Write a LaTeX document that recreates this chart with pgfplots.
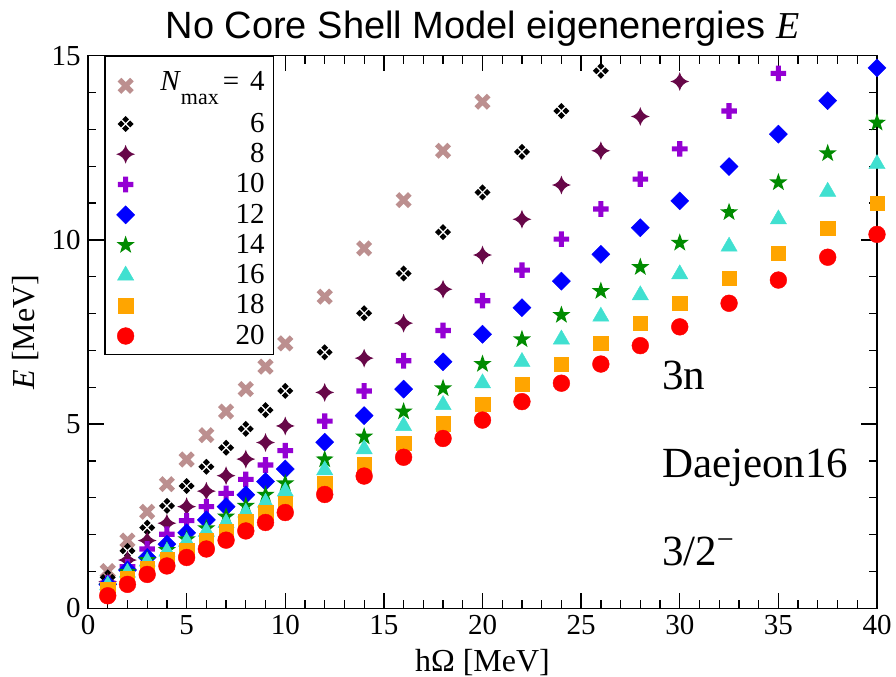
\documentclass[border=0pt]{standalone}
\usepackage{fontspec}
\setmainfont{Liberation Serif}
\newfontfamily\titlefont{Liberation Sans}
\usepackage{pgfplots}
\pgfplotsset{compat=1.18}

\definecolor{gbrown}{RGB}{188,143,143}
\definecolor{gmaroon}{RGB}{103,7,72}
\definecolor{gviolet}{RGB}{148,0,211}
\definecolor{ggreen}{RGB}{0,139,0}
\definecolor{gturq}{RGB}{64,224,208}
\definecolor{gorange}{RGB}{255,165,0}

% marks
\newcommand\mkp[2]{\pgfqpoint{#1\pgfplotmarksize}{#2\pgfplotmarksize}}
\pgfdeclareplotmark{fourdiam}{%
  \pgfpathmoveto{\mkp{1}{0}}\pgfpathlineto{\mkp{0.57}{0.43}}\pgfpathlineto{\mkp{0.14}{0}}\pgfpathlineto{\mkp{0.57}{-0.43}}\pgfpathclose
  \pgfpathmoveto{\mkp{-1}{0}}\pgfpathlineto{\mkp{-0.57}{0.43}}\pgfpathlineto{\mkp{-0.14}{0}}\pgfpathlineto{\mkp{-0.57}{-0.43}}\pgfpathclose
  \pgfpathmoveto{\mkp{0}{1}}\pgfpathlineto{\mkp{0.43}{0.57}}\pgfpathlineto{\mkp{0}{0.14}}\pgfpathlineto{\mkp{-0.43}{0.57}}\pgfpathclose
  \pgfpathmoveto{\mkp{0}{-1}}\pgfpathlineto{\mkp{0.43}{-0.57}}\pgfpathlineto{\mkp{0}{-0.14}}\pgfpathlineto{\mkp{-0.43}{-0.57}}\pgfpathclose
  \pgfusepathqfill}
\pgfdeclareplotmark{fourstar}{%
  \pgfpathmoveto{\mkp{0}{1}}
  \pgfpathquadraticcurveto{\mkp{0.2}{0.2}}{\mkp{1}{0}}
  \pgfpathquadraticcurveto{\mkp{0.2}{-0.2}}{\mkp{0}{-1}}
  \pgfpathquadraticcurveto{\mkp{-0.2}{-0.2}}{\mkp{-1}{0}}
  \pgfpathquadraticcurveto{\mkp{-0.2}{0.2}}{\mkp{0}{1}}
  \pgfpathclose\pgfusepathqfill}
\pgfdeclareplotmark{fplus}{%
  \pgfpathmoveto{\mkp{0.33}{1}}\pgfpathlineto{\mkp{0.33}{0.33}}\pgfpathlineto{\mkp{1}{0.33}}
  \pgfpathlineto{\mkp{1}{-0.33}}\pgfpathlineto{\mkp{0.33}{-0.33}}\pgfpathlineto{\mkp{0.33}{-1}}
  \pgfpathlineto{\mkp{-0.33}{-1}}\pgfpathlineto{\mkp{-0.33}{-0.33}}\pgfpathlineto{\mkp{-1}{-0.33}}
  \pgfpathlineto{\mkp{-1}{0.33}}\pgfpathlineto{\mkp{-0.33}{0.33}}\pgfpathlineto{\mkp{-0.33}{1}}
  \pgfpathclose\pgfusepathqfill}
\pgfdeclareplotmark{fstar}{%
  \pgfpathmoveto{\mkp{0}{1}}\pgfpathlineto{\mkp{0.235}{0.324}}\pgfpathlineto{\mkp{0.951}{0.309}}
  \pgfpathlineto{\mkp{0.380}{-0.124}}\pgfpathlineto{\mkp{0.588}{-0.809}}\pgfpathlineto{\mkp{0}{-0.4}}
  \pgfpathlineto{\mkp{-0.588}{-0.809}}\pgfpathlineto{\mkp{-0.380}{-0.124}}\pgfpathlineto{\mkp{-0.951}{0.309}}
  \pgfpathlineto{\mkp{-0.235}{0.324}}\pgfpathclose\pgfusepathqfill}

\newcommand\rowstrut{\rule[-1.5pt]{0pt}{11.25pt}}

\begin{document}
\begin{tikzpicture}
\begin{axis}[
  scale only axis,
  width=394.5pt, height=276.3pt,
  xmin=0, xmax=40, ymin=0, ymax=15,
  xtick={0,5,...,40}, ytick={0,5,10,15},
  minor tick num=4,
  tick pos=both, tick align=inside,
  major tick length=7.8pt, minor tick length=4.2pt,
  axis line style={line width=0.65pt},
  every tick/.style={black, line width=0.65pt},
  clip=false,
  /pgf/number format/assume math mode=true,
  ticklabel style={font=\rmfamily\fontsize{14.5}{17}\selectfont},
  yticklabel style={inner xsep=3.5pt},
  title={{\titlefont No Core Shell Model eigenenergies {\rmfamily\itshape E}}},
  title style={at={([yshift=2.85pt]axis description cs:0.5,1)}, anchor=base, inner sep=0pt, font=\fontsize{19}{22}\selectfont},
  xlabel={hΩ [MeV]},
  ylabel={\textit{E} [MeV]},
  xlabel style={at={([yshift=-31.35pt]axis description cs:0.5,0)}, anchor=base, inner sep=0pt, font=\rmfamily\fontsize{16}{19}\selectfont},
  ylabel style={at={([xshift=-26.5pt]axis description cs:0,0.5)}, anchor=base, inner sep=0pt, font=\rmfamily\fontsize{16}{19}\selectfont},
  legend cell align=right,
  legend image code/.code={\path (-7pt,0pt) (15.5pt,0pt); \draw[#1] plot coordinates {(0pt,0pt)};},
  legend style={at={(axis description cs:0.0207,1)}, anchor=north west, draw=black, line width=0.65pt, fill=white,
    font=\rmfamily\fontsize{14.5}{16}\selectfont, inner xsep=3pt, inner ysep=2pt, row sep=0.9pt,
    nodes={inner sep=1.5pt, text depth={}, text height={}}},
]
\addplot[only marks, color=gbrown, mark=x, mark size=4.4pt, mark options={line width=2.6pt},
  legend image post style={yshift=-0.85pt}] coordinates {
(1,1.01) (2,1.84) (3,2.62) (4,3.37) (5,4.04) (6,4.70) (7,5.34) (8,5.95) (9,6.56) (10,7.19)
(12,8.46) (14,9.77) (16,11.08) (18,12.42) (20,13.75)};
\addlegendentry{\rule[-7pt]{0pt}{20.65pt}\textit{N}\raisebox{-7pt}{\fontsize{11}{11}\selectfont max}\hspace{2pt}=\hspace{5.5pt}4}
\addplot[only marks, color=black, mark=fourdiam, mark size=4pt] coordinates {
(1,0.84) (2,1.56) (3,2.19) (4,2.78) (5,3.32) (6,3.84) (7,4.36) (8,4.87) (9,5.38) (10,5.90)
(12,6.95) (14,8.01) (16,9.09) (18,10.21) (20,11.29) (22,12.39) (24,13.50) (26,14.59)};
\addlegendentry{\rowstrut 6}
\addplot[only marks, color=gmaroon, mark=fourstar, mark size=4.7pt] coordinates {
(1,0.72) (2,1.31) (3,1.84) (4,2.31) (5,2.76) (6,3.18) (7,3.60) (8,4.05) (9,4.50) (10,4.95)
(12,5.86) (14,6.79) (16,7.74) (18,8.66) (20,9.59) (22,10.56) (24,11.49) (26,12.42) (28,13.35) (30,14.30)};
\addlegendentry{\rowstrut 8}
\addplot[only marks, color=gviolet, mark=fplus, mark size=3.9pt] coordinates {
(1,0.68) (2,1.13) (3,1.61) (4,2.01) (5,2.38) (6,2.76) (7,3.12) (8,3.50) (9,3.89) (10,4.28)
(12,5.08) (14,5.90) (16,6.72) (18,7.54) (20,8.35) (22,9.18) (24,10.02) (26,10.84) (28,11.65) (30,12.47)
(32.5,13.50) (35,14.52)};
\addlegendentry{\rowstrut 10}
\addplot[only marks, color=blue, mark=square*, mark size=3.2pt, mark options={rotate=45, line width=0.2pt}] coordinates {
(1,0.65) (2,1.04) (3,1.38) (4,1.74) (5,2.05) (6,2.40) (7,2.76) (8,3.08) (9,3.44) (10,3.78)
(12,4.51) (14,5.23) (16,5.95) (18,6.69) (20,7.44) (22,8.16) (24,8.88) (26,9.61) (28,10.33) (30,11.06)
(32.5,11.99) (35,12.87) (37.5,13.78) (40,14.67)};
\addlegendentry{\rowstrut 12}
\addplot[only marks, color=ggreen, mark=fstar, mark size=4.75pt] coordinates {
(1,0.59) (2,0.99) (3,1.31) (4,1.58) (5,1.87) (6,2.17) (7,2.49) (8,2.78) (9,3.08) (10,3.39)
(12,4.04) (14,4.66) (16,5.34) (18,5.97) (20,6.63) (22,7.30) (24,7.96) (26,8.61) (28,9.26) (30,9.92)
(32.5,10.75) (35,11.56) (37.5,12.35) (40,13.18)};
\addlegendentry{\rowstrut 14}
\addplot[only marks, color=gturq, mark=triangle*, mark size=4.7pt, mark options={line width=0.2pt}] coordinates {
(1,0.63) (2,0.97) (3,1.27) (4,1.54) (5,1.81) (6,2.08) (7,2.32) (8,2.60) (9,2.87) (10,3.17)
(12,3.75) (14,4.32) (16,4.95) (18,5.52) (20,6.11) (22,6.69) (24,7.30) (26,7.92) (28,8.50) (30,9.07)
(32.5,9.82) (35,10.56) (37.5,11.31) (40,12.06)};
\addlegendentry{\rowstrut 16}
\addplot[only marks, color=gorange, mark=square*, mark size=3.6pt, mark options={line width=0.2pt}] coordinates {
(1,0.50) (2,0.81) (3,1.09) (4,1.33) (5,1.58) (6,1.85) (7,2.10) (8,2.35) (9,2.60) (10,2.85)
(12,3.39) (14,3.91) (16,4.48) (18,5.01) (20,5.54) (22,6.09) (24,6.63) (26,7.19) (28,7.74) (30,8.28)
(32.5,8.96) (35,9.64) (37.5,10.31) (40,10.99)};
\addlegendentry{\rowstrut 18}
\addplot[only marks, color=red, mark=*, mark size=4.2pt, mark options={line width=0.2pt}] coordinates {
(1,0.34) (2,0.65) (3,0.92) (4,1.15) (5,1.38) (6,1.61) (7,1.85) (8,2.10) (9,2.33) (10,2.60)
(12,3.09) (14,3.59) (16,4.10) (18,4.61) (20,5.11) (22,5.61) (24,6.11) (26,6.63) (28,7.13) (30,7.64)
(32.5,8.28) (35,8.91) (37.5,9.53) (40,10.15)};
\addlegendentry{\rowstrut 20}
\node[anchor=base west, inner sep=0pt, font=\rmfamily\fontsize{21.5}{25}\selectfont] at (axis cs:29.08,5.94) {3n};
\node[anchor=base west, inner sep=0pt, font=\rmfamily\fontsize{21.5}{25}\selectfont] at (axis cs:29.08,3.56) {Daejeon16};
\node[anchor=base west, inner sep=0pt, font=\rmfamily\fontsize{21.5}{25}\selectfont] at (axis cs:29.08,1.175) {3/2\textsuperscript{−}};
\end{axis}
\pgfresetboundingbox
\path[use as bounding box] ([xshift=-44pt,yshift=-33.85pt]current axis.south west) rectangle ([xshift=9.5pt,yshift=27.85pt]current axis.north east);
\end{tikzpicture}
\end{document}
